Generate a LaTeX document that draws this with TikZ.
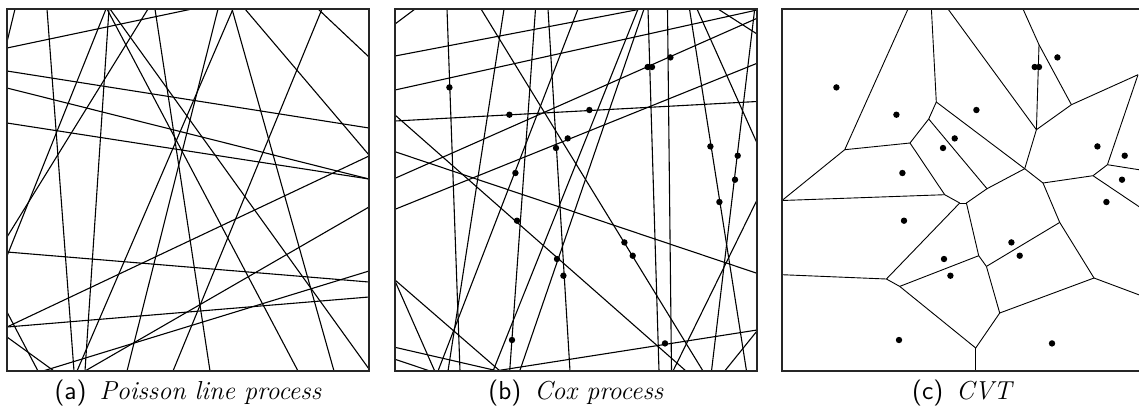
\documentclass[tikz,border=0pt]{standalone}
\usepackage{tikz}
\usetikzlibrary{positioning}

\begin{document}
\begin{tikzpicture}[
    x=0.5pt, y=-0.5pt,
    % frame and line styles
    frame/.style={draw=black!85, line width=0.8pt},
    ray/.style={draw=black, line width=0.55pt},
    cell/.style={draw=black, line width=0.45pt},
    seed/.style={fill=black},
    % caption style
    subcap/.style={font=\fontsize{13}{15}\selectfont, inner sep=0pt}
]
\useasboundingbox (0,0) rectangle (1139,414);

% shared seed points of (b) and (c)
\def\seeds{54.4/78.4, 114.4/105.7, 194.4/101, 161/139, 172.7/129.4,
  120.4/164, 122/211.7, 252.7/58, 257/58, 275.4/48.4, 315.4/137.4,
  342.7/146.7, 340/170.7, 324.4/193, 229.4/233.4, 237.7/246.7,
  162/250, 168.4/266.7, 117/331, 270/334.4}

% ==========================================
% (a) POISSON LINE PROCESS
% ==========================================
\begin{scope}[shift={(7,9)}]
    \foreach \xa/\ya/\xb/\yb in {
        8/0/0/33, 0/39/185/0, 40/0/67/362, 102/0/78/362, 99/0/0/247,
        141/0/0/228, 225/0/327/362, 100/0/291/362, 103/0/362/360,
        148/0/203/362, 211/0/120/362, 226/0/70/362, 238/0/362/146,
        315/0/166/362, 311/0/362/48, 0/62/362/119, 0/79/362/170,
        0/114/362/170, 0/243/362/273, 0/318/362/288, 0/318/362/147,
        0/303/31/362, 0/328/47/362, 36/362/362/262, 78/362/362/198}
        \draw[ray] (\xa,\ya) -- (\xb,\yb);
    \draw[frame] (0,0) rectangle (362,362);
\end{scope}

% ==========================================
% (b) COX PROCESS
% ==========================================
\begin{scope}[shift={(395,9)}]
    \foreach \xa/\ya/\xb/\yb in {
        0/15/20/0, 52/0/65/362, 86/0/308/362, 109/0/53/362, 0/106/291/362,
        153/0/175/362, 100/362/362/321, 0/47/246/0, 0/81/362/1,
        0/112/362/92.5, 0/142.7/362/264.3, 0/169.3/362/9.3,
        0/200.3/362/54.3, 140.5/0/114.7/362, 183/0/43/362, 243/0/98/362,
        249/0/124.7/362, 253/0/264/362, 272.5/0/276.5/362, 294.5/0/351.5/362,
        359.7/0/316.5/362, 278/362/362/191, 329.7/362/362/322,
        302/0/362/134, 323/0/362/25, 0/271/105/362, 0/272/39.7/362,
        0/338.3/103/362, 0/350.3/35/362}
        \draw[ray] (\xa,\ya) -- (\xb,\yb);
    \foreach \px/\py in \seeds
        \fill[seed] (\px,\py) circle[radius=1.6pt];
    \draw[frame] (0,0) rectangle (362,362);
\end{scope}

% ==========================================
% (c) CVT
% ==========================================
\begin{scope}[shift={(782,9)}]
    % --- Voronoi vertices ---
    \coordinate (t1) at (126,0);
    \coordinate (t2) at (149.4,0);
    \coordinate (t3) at (166,0);
    \coordinate (t4) at (241,0);
    \coordinate (bt) at (193.7,362);
    \coordinate (l1) at (0,191.5);
    \coordinate (l2) at (0,265.7);
    \coordinate (r1) at (362,161.5);
    \coordinate (r2) at (362,201);
    \coordinate (r3) at (362,287.7);
    \coordinate (vA) at (62.7,140.7);
    \coordinate (vB) at (128,134);
    \coordinate (vC) at (146.7,110);
    \coordinate (vD) at (154.3,93);
    \coordinate (vE) at (254.4,120.7);
    \coordinate (vF) at (242.7,159.7);
    \coordinate (vG) at (205,179.7);
    \coordinate (vH) at (162.7,185.7);
    \coordinate (vI) at (177.7,194);
    \coordinate (vJ) at (184.4,194);
    \coordinate (vK) at (257,35.7);
    \coordinate (vM) at (289.4,95.7);
    \coordinate (vN) at (356,65.7);
    \coordinate (vO) at (325.4,155.7);
    \coordinate (vP) at (311,166.7);
    \coordinate (vQ) at (261,174);
    \coordinate (vS) at (277.7,213.4);
    \coordinate (vT) at (312,269);
    \coordinate (vU) at (217.7,304);
    \coordinate (vV) at (204.4,257.4);
    \coordinate (vW) at (196.7,246.7);
    \coordinate (vX) at (117.7,277.4);
    \coordinate (vY) at (104.4,270);
    \coordinate (vZ) at (193.7,339);

    % --- cell edges ---
    \foreach \p/\q in {t1/vA, vA/l1, vA/vB, vB/vC, vC/vD, vD/t2, t3/vE,
        vD/vF, vC/vG, vB/vH, vH/l1, vH/vI, vI/vJ, vJ/vG, vG/vF, vF/vE,
        vE/vK, vK/t4, vK/vM, vM/vE, vM/vN, vN/vO, vO/r1, vO/vP, vP/vQ,
        vQ/vF, vP/r2, vQ/vS, vS/vT, vT/r3, vT/vU, vS/vV, vV/vW, vW/vJ,
        vW/vX, vX/vY, vY/vI, vY/l2, vV/vU, vU/vZ, vZ/bt, vZ/vX}
        \draw[cell] (\p) -- (\q);
    \foreach \px/\py in \seeds
        \fill[seed] (\px,\py) circle[radius=1.6pt];
    \draw[frame] (0,0) rectangle (362,362);
\end{scope}

% ==========================================
% CAPTIONS
% ==========================================
\node[subcap] (capA) at (188,393) {\textsf{(a)}\enspace\textit{Poisson line process}};
\node[subcap] (capB) at (576,393) {\textsf{(b)}\enspace\textit{Cox process}};
\node[subcap] (capC) at (963,393) {\textsf{(c)}\enspace\textit{CVT}};

\end{tikzpicture}
\end{document}
